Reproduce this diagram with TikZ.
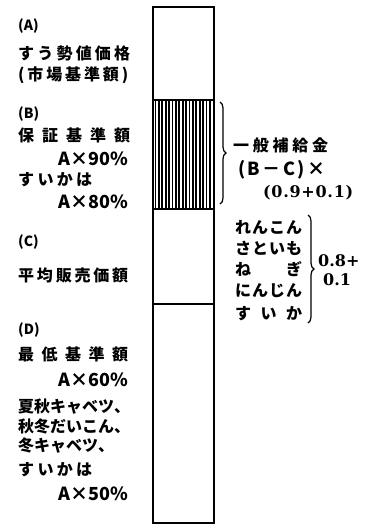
\documentclass[tikz,border=0pt]{standalone}
\usepackage{fontspec}
\newfontfamily\jp{Noto Sans CJK JP}
\newfontfamily\serifb{DejaVu Serif}
\usetikzlibrary{decorations.pathreplacing}
\makeatletter
\newcommand\spr[2]{\makebox[#1][s]{\def\sprsep{}\@tfor\sprtok:=#2\do{\sprsep\sprtok\def\sprsep{\hfil}}}}
\makeatother
\tikzset{
  txt/.style={inner sep=0pt, anchor=west, font=\jp\bfseries\fontsize{16}{18}\selectfont},
  lat/.style={inner sep=0pt, anchor=west, font=\jp\bfseries\fontsize{18}{20}\selectfont},
  lbl/.style={inner sep=0pt, anchor=west, font=\jp\bfseries\fontsize{14}{16}\selectfont},
  num/.style={inner sep=0pt, anchor=west, font=\serifb\bfseries\fontsize{16}{18}\selectfont},
  barline/.style={line width=1.6pt},
  divline/.style={line width=1.2pt},
  hatch/.style={line width=1.8pt},
  bracestyle/.style={decorate, decoration={brace, amplitude=6pt}, line width=1.2pt}
}
\begin{document}
\begin{tikzpicture}[x=1pt,y=-1pt]
\useasboundingbox (0,0) rectangle (367,528);
% bar
\foreach \hx in {155.5,158.9,...,212.5} {\draw[hatch] (\hx,100) -- (\hx,209);}
\draw[barline] (153,7) rectangle (214,523);
\draw[divline] (153,100) -- (214,100);
\draw[divline] (153,209) -- (214,209);
\draw[divline] (153,304) -- (214,304);
% left column
\node[lbl] (la) at (18,26) {(A)};
\node[txt] (la1) at (18,53) {\spr{112pt}{すう勢値価格}};
\node[txt] (la2) at (18,75) {\spr{110pt}{(市場基準額)}};
\node[lbl] (lb) at (18,114) {(B)};
\node[txt] (lb1) at (18,135) {\spr{112pt}{保証基準額}};
\node[lat] (lb2) at (58,159) {\spr{70pt}{A×90\%}};
\node[txt] (lb3) at (18,180) {\spr{74pt}{すいかは}};
\node[lat] (lb4) at (58,202) {\spr{70pt}{A×80\%}};
\node[lbl] (lc) at (18,242) {(C)};
\node[txt] (lc1) at (18,275) {\spr{110pt}{平均販売価額}};
\node[lbl] (ld) at (18,330) {(D)};
\node[txt] (ld1) at (18,354) {\spr{110pt}{最低基準額}};
\node[lat] (ld2) at (58,380) {\spr{70pt}{A×60\%}};
\node[txt] (ld3) at (18,407) {\spr{110pt}{夏秋キャベツ、}};
\node[txt] (ld4) at (18,426) {\spr{110pt}{秋冬だいこん、}};
\node[txt] (ld5) at (18,445) {\spr{90pt}{冬キャベツ、}};
\node[txt] (ld6) at (18,470) {\spr{74pt}{すいかは}};
\node[lat] (ld7) at (58,494) {\spr{70pt}{A×50\%}};
% first brace
\coordinate (b1t) at (220,102);
\coordinate (b1b) at (220,204);
\draw[bracestyle] (b1t) -- (b1b);
\node[txt] (r1) at (233,145) {\spr{95pt}{一般補給金}};
\node[lat] (r2) at (238,170) {\spr{87pt}{(B－C)×}};
\node[num] (r3) at (263,193) {\spr{90pt}{(0.9+0.1)}};
% second group
\node[txt] (s1) at (235,227) {\spr{67pt}{れんこん}};
\node[txt] (s2) at (235,248) {\spr{67pt}{さといも}};
\node[txt] (s3) at (235,269) {\spr{67pt}{ねぎ}};
\node[txt] (s4) at (235,291) {\spr{67pt}{にんじん}};
\node[txt] (s5) at (235,314) {\spr{67pt}{すいか}};
\coordinate (b2t) at (308,215);
\coordinate (b2b) at (308,323);
\draw[bracestyle] (b2t) -- (b2b);
\node[num] (n1) at (318,261) {\spr{40pt}{0.8+}};
\node[num] (n2) at (323,280) {\spr{27pt}{0.1}};
\end{tikzpicture}
\end{document}
